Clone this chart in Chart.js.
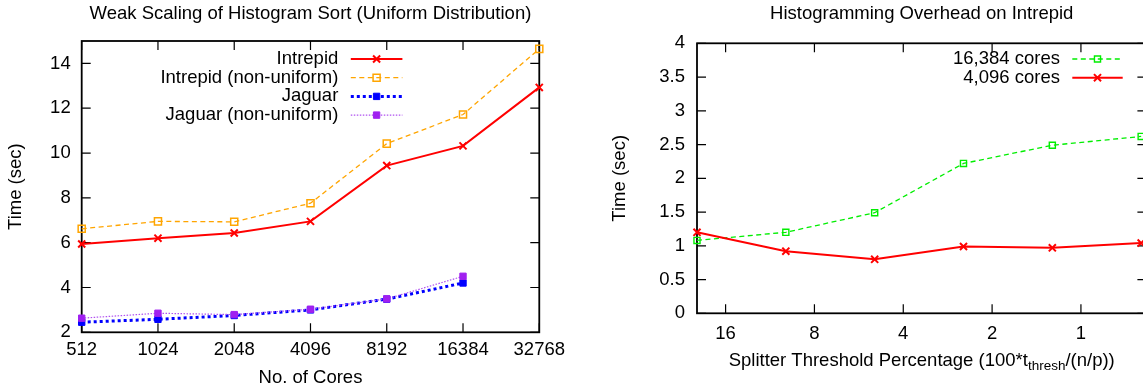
<!DOCTYPE html>
<html>
<head>
<meta charset="utf-8">
<script src="https://cdn.jsdelivr.net/npm/chart.js@4.4.0/dist/chart.umd.min.js"></script>
<style>
  html, body { margin: 0; padding: 0; background: #fff; overflow: hidden; width: 1143px; height: 391px; }
  .box { position: absolute; top: 0; height: 391px; }
  #leftBox  { left: 0;     width: 572px; }
  #rightBox { left: 585px; width: 575px; }
</style>
</head>
<body>
<div class="box" id="leftBox"><canvas id="weak"></canvas></div>
<div class="box" id="rightBox"><canvas id="overhead"></canvas></div>
<script>
/* ── Left: weak scaling data ── */
const cores              = [512, 1024, 2048, 4096, 8192, 16384, 32768];
const intrepid           = [5.94, 6.2, 6.43, 6.95, 9.44, 10.32, 12.93];
const intrepidNonUniform = [6.62, 6.95, 6.93, 7.76, 10.42, 11.72, 14.65];
const jaguarCores        = [512, 1024, 2048, 4096, 8192, 16384];
const jaguar             = [2.45, 2.58, 2.75, 3.0, 3.48, 4.2];
const jaguarNonUniform   = [2.63, 2.85, 2.79, 3.03, 3.49, 4.5];
const coreTicks          = [512, 1024, 2048, 4096, 8192, 16384, 32768];
const weakTimeTicks      = [2, 4, 6, 8, 10, 12, 14];

/* ── Right: histogramming overhead data ── */
const thresholds         = [20, 10, 5, 2.5, 1.25, 0.625];
const cores16k           = [1.08, 1.2, 1.49, 2.22, 2.49, 2.62];
const cores4k            = [1.2, 0.92, 0.8, 0.99, 0.97, 1.04];
const thresholdTicks     = [16, 8, 4, 2, 1];
const overheadTimeTicks  = [0, 0.5, 1, 1.5, 2, 2.5, 3, 3.5, 4];

const FONT_FAMILY = "'Liberation Sans', Arial, Helvetica, sans-serif";
const FONT = { family: FONT_FAMILY, size: 18.5, weight: 'normal' };

const pts = (xs, ys) => xs.map((x, i) => ({ x, y: ys[i] }));

/* ── gnuplot-like border with inward mirrored ticks ── */
const frame = {
  id: 'frame',
  beforeDatasetsDraw(chart) {
    const { ctx, chartArea: a, scales: { x, y } } = chart;
    const L = 9;
    ctx.save();
    ctx.strokeStyle = '#000';
    ctx.lineWidth = 1.2;
    ctx.beginPath();
    x.ticks.forEach(t => {
      const px = x.getPixelForValue(t.value);
      ctx.moveTo(px, a.bottom); ctx.lineTo(px, a.bottom - L);
      ctx.moveTo(px, a.top);    ctx.lineTo(px, a.top + L);
    });
    y.ticks.forEach(t => {
      const py = y.getPixelForValue(t.value);
      ctx.moveTo(a.left, py);  ctx.lineTo(a.left + L, py);
      ctx.moveTo(a.right, py); ctx.lineTo(a.right - L, py);
    });
    ctx.stroke();
    ctx.lineWidth = 1.8;
    ctx.strokeRect(a.left, a.top, a.right - a.left, a.bottom - a.top);
    ctx.restore();
  }
};

/* ── key: text, then line sample with marker ── */
const key = {
  id: 'key',
  afterDatasetsDraw(chart, args, o) {
    if (!o || !o.rows) return;
    const ctx = chart.ctx;
    chart.data.datasets.forEach((ds, i) => {
      const y = o.top + i * o.step;
      ctx.save();
      ctx.font = FONT.size + 'px ' + FONT_FAMILY;
      ctx.fillStyle = '#000';
      ctx.textAlign = 'right';
      ctx.textBaseline = 'middle';
      ctx.fillText(ds.label, o.textRight, y);
      ctx.strokeStyle = ds.borderColor;
      ctx.lineWidth = ds.borderWidth;
      ctx.setLineDash(ds.borderDash || []);
      ctx.beginPath();
      ctx.moveTo(o.lineLeft, y);
      ctx.lineTo(o.lineRight, y);
      ctx.stroke();
      ctx.setLineDash([]);
      ctx.fillStyle = ds.pointBackgroundColor;
      ctx.strokeStyle = ds.pointBorderColor;
      ctx.lineWidth = ds.pointBorderWidth;
      Chart.helpers.drawPoint(ctx, {
        pointStyle: ds.pointStyle, radius: ds.pointRadius,
        borderWidth: ds.pointBorderWidth, rotation: 0
      }, (o.lineLeft + o.lineRight) / 2, y);
      ctx.restore();
    });
  }
};

/* ── x label with subscript (right chart) ── */
const richLabel = {
  id: 'richLabel',
  afterDraw(chart, args, o) {
    if (!o || !o.parts) return;
    const { ctx, chartArea: a } = chart;
    ctx.save();
    ctx.fillStyle = '#000';
    ctx.textBaseline = 'alphabetic';
    ctx.textAlign = 'left';
    const widths = o.parts.map(p => {
      ctx.font = (p.sub ? o.subSize : FONT.size) + 'px ' + FONT_FAMILY;
      return ctx.measureText(p.text).width;
    });
    let x = (a.left + a.right) / 2 - widths.reduce((s, w) => s + w, 0) / 2;
    o.parts.forEach((p, i) => {
      ctx.font = (p.sub ? o.subSize : FONT.size) + 'px ' + FONT_FAMILY;
      ctx.fillText(p.text, x, o.baseline + (p.sub ? o.subShift : 0));
      x += widths[i];
    });
    ctx.restore();
  }
};

function ticksFrom(arr) {
  return s => { s.ticks = arr.map(v => ({ value: v })); };
}

const baseScale = {
  grid:   { display: false, drawTicks: false },
  border: { display: false },
};

/* ── Weak scaling chart ── */
new Chart(document.getElementById('weak'), {
  type: 'line',
  data: {
    datasets: [
      {
        label: 'Intrepid', data: pts(cores, intrepid),
        borderColor: '#ff0000', borderWidth: 2,
        pointStyle: 'crossRot', pointRadius: 5, pointBorderWidth: 2,
        pointBorderColor: '#ff0000', pointBackgroundColor: '#ff0000',
        order: 4, clip: false,
      },
      {
        label: 'Intrepid (non-uniform)', data: pts(cores, intrepidNonUniform),
        borderColor: '#ffa500', borderWidth: 1.3, borderDash: [5, 3.5],
        pointStyle: 'rect', pointRadius: 5, pointBorderWidth: 1.5,
        pointBorderColor: '#ffa500', pointBackgroundColor: 'rgba(0,0,0,0)',
        order: 3, clip: false,
      },
      {
        label: 'Jaguar', data: pts(jaguarCores, jaguar),
        borderColor: '#0000ff', borderWidth: 3, borderDash: [3, 3],
        pointStyle: 'rect', pointRadius: 4.5, pointBorderWidth: 1,
        pointBorderColor: '#0000ff', pointBackgroundColor: '#0000ff',
        order: 2, clip: false,
      },
      {
        label: 'Jaguar (non-uniform)', data: pts(jaguarCores, jaguarNonUniform),
        borderColor: '#b050f0', borderWidth: 1.2, borderDash: [1.5, 1.5],
        pointStyle: 'rect', pointRadius: 4.5, pointBorderWidth: 1,
        pointBorderColor: '#a020f0', pointBackgroundColor: '#a020f0',
        order: 1, clip: false,
      },
    ]
  },
  options: {
    responsive: true,
    maintainAspectRatio: false,
    animation: false,
    layout: { padding: { left: 0, right: 29.3, top: 0, bottom: 0 } },
    plugins: {
      legend:  { display: false },
      tooltip: { enabled: false },
      title: {
        display: true, text: 'Weak Scaling of Histogram Sort (Uniform Distribution)',
        color: '#000', font: FONT, fullSize: false,
        padding: { top: 3, bottom: 15.8 },
      },
      key: { rows: true, top: 59, step: 18.7, textRight: 338.3, lineLeft: 350.8, lineRight: 402.4 },
    },
    scales: {
      x: {
        ...baseScale,
        type: 'logarithmic', min: 512, max: 32768,
        afterBuildTicks: ticksFrom(coreTicks),
        afterFit: s => { s.height = 391 - 332.3; },
        ticks: { color: '#000', font: FONT, padding: 7, maxRotation: 0, autoSkip: false, callback: v => String(v) },
        title: { display: true, text: 'No. of Cores', color: '#000', font: FONT, padding: { top: 0, bottom: 2 } },
      },
      y: {
        ...baseScale,
        type: 'linear', min: 2, max: 15,
        afterBuildTicks: ticksFrom(weakTimeTicks),
        afterFit: s => { s.width = 81.7; },
        ticks: { color: '#000', font: FONT, padding: 11, callback: v => String(v) },
        title: { display: true, text: 'Time (sec)', color: '#000', font: FONT, padding: { top: 5, bottom: 0 } },
      }
    }
  },
  plugins: [frame, key]
});

/* ── Histogramming overhead chart ── */
new Chart(document.getElementById('overhead'), {
  type: 'line',
  data: {
    datasets: [
      {
        label: '16,384 cores', data: pts(thresholds, cores16k),
        borderColor: '#00ee00', borderWidth: 1.3, borderDash: [5, 3.5],
        pointStyle: 'rect', pointRadius: 4.3, pointBorderWidth: 1.4,
        pointBorderColor: '#00ee00', pointBackgroundColor: 'rgba(0,0,0,0)',
        order: 2, clip: false,
      },
      {
        label: '4,096 cores', data: pts(thresholds, cores4k),
        borderColor: '#ff0000', borderWidth: 2,
        pointStyle: 'crossRot', pointRadius: 5, pointBorderWidth: 2,
        pointBorderColor: '#ff0000', pointBackgroundColor: '#ff0000',
        order: 1, clip: false,
      },
    ]
  },
  options: {
    responsive: true,
    maintainAspectRatio: false,
    animation: false,
    layout: { padding: { left: 0, right: 13.6, top: 0, bottom: 0 } },
    plugins: {
      legend:  { display: false },
      tooltip: { enabled: false },
      title: {
        display: true, text: 'Histogramming Overhead on Intrepid',
        color: '#000', font: FONT, fullSize: false,
        padding: { top: 3, bottom: 18.1 },
      },
      key: { rows: true, top: 59, step: 18.7, textRight: 1060 - 585, lineLeft: 1072.3 - 585, lineRight: 1122.7 - 585 },
      richLabel: {
        parts: [
          { text: 'Splitter Threshold Percentage (100*t' },
          { text: 'thresh', sub: true },
          { text: '/(n/p))' },
        ],
        baseline: 365.7, subSize: 13.5, subShift: 4.5,
      },
    },
    scales: {
      x: {
        ...baseScale,
        type: 'logarithmic', min: 0.625, max: 20, reverse: true,
        afterBuildTicks: ticksFrom(thresholdTicks),
        afterFit: s => { s.height = 391 - 313.3; },
        ticks: { color: '#000', font: FONT, padding: 10, maxRotation: 0, autoSkip: false, callback: v => String(v) },
      },
      y: {
        ...baseScale,
        type: 'linear', min: 0, max: 4,
        afterBuildTicks: ticksFrom(overheadTimeTicks),
        afterFit: s => { s.width = 112; },
        ticks: { color: '#000', font: FONT, padding: 12, callback: v => String(v) },
        title: { display: true, text: 'Time (sec)', color: '#000', font: FONT, padding: { top: 23.9, bottom: 0 } },
      }
    }
  },
  plugins: [frame, key, richLabel]
});
</script>
</body>
</html>
